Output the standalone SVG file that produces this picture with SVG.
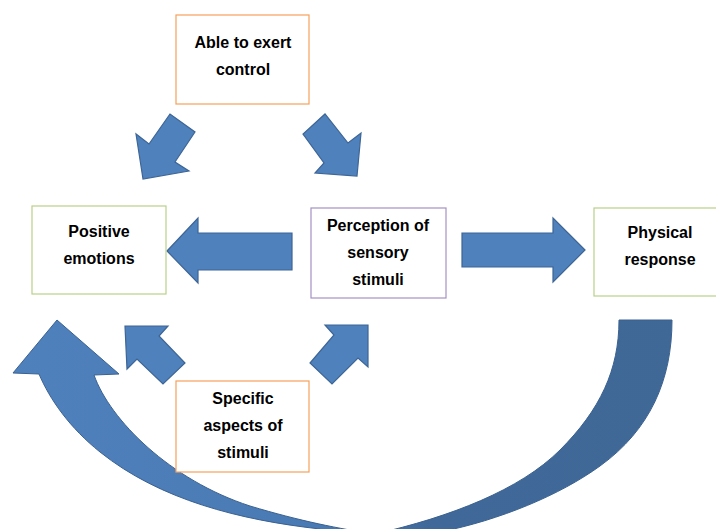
<svg xmlns="http://www.w3.org/2000/svg" width="716" height="529" viewBox="0 0 716 529">
<defs>
<linearGradient id="curveGrad" gradientUnits="userSpaceOnUse" x1="0" y1="0" x2="716" y2="0">
<stop offset="0" stop-color="#4f81bd"/>
<stop offset="0.45" stop-color="#4a7ab3"/>
<stop offset="0.6" stop-color="#40699a"/>
<stop offset="1" stop-color="#3f6896"/>
</linearGradient>
</defs>
<style>
.box{fill:#ffffff;stroke-width:1.2}
.orange{stroke:#f7a05a}
.green{stroke:#b9d08a}
.purple{stroke:#a591c4}
.lbl{font-family:"Liberation Sans",Arial,sans-serif;font-weight:bold;font-size:16px;fill:#000;text-anchor:middle}
.arr{fill:#4f81bd;stroke:#3d6595;stroke-width:1.2;stroke-linejoin:miter}
</style>
<g id="connectors">
<path id="curve" d="M94,375 C110,420 170,480 250,506 C300,521 340,529 375,534 C450,517 520,490 560,450 C600,410 619,370 619,320 L672,320 C672,380 650,430 600,466 C560,495 500,520 440,532 L440,540 L320,540 L320,529 C240,520 160,500 100,452 C70,428 50,400 39,374 L13,373 L57,320 L119,374 Z" fill="url(#curveGrad)" stroke="#3a6190" stroke-width="1"/>
<polygon class="arr" points="143,179 136,134 149,144 170,114 195,132 175,162 189,171"/>
<polygon class="arr" points="357,176 361,133 348,143 325,114 303,134 324,163 315,173"/>
<polygon class="arr" points="167,251 198,218 198,233 292,233 292,270 198,270 198,283"/>
<polygon class="arr" points="585,250 553,218 553,233 462,233 462,267 553,267 553,282"/>
<polygon class="arr" points="125,326 168,326 159,336 185,363 163,384 137,359 127,369"/>
<polygon class="arr" points="368,325 325,325 334,335 310,363 332,384 358,358 368,367"/>
</g>
<g id="node-control">
<rect class="box orange" x="176" y="15" width="133" height="89"/>
<text class="lbl" x="243" y="48">Able to exert</text>
<text class="lbl" x="243" y="75">control</text>
</g>
<g id="node-positive">
<rect class="box green" x="32" y="206" width="134" height="88"/>
<text class="lbl" x="99" y="237">Positive</text>
<text class="lbl" x="99" y="264">emotions</text>
</g>
<g id="node-perception">
<rect class="box purple" x="311" y="208" width="135" height="90"/>
<text class="lbl" x="378" y="231">Perception of</text>
<text class="lbl" x="378" y="258">sensory</text>
<text class="lbl" x="378" y="285">stimuli</text>
</g>
<g id="node-physical">
<rect class="box green" x="594" y="208" width="130" height="88"/>
<text class="lbl" x="660" y="238">Physical</text>
<text class="lbl" x="660" y="265">response</text>
</g>
<g id="node-specific">
<rect class="box orange" x="176" y="381" width="133" height="91"/>
<text class="lbl" x="243" y="404">Specific</text>
<text class="lbl" x="243" y="431">aspects of</text>
<text class="lbl" x="243" y="458">stimuli</text>
</g>
</svg>
